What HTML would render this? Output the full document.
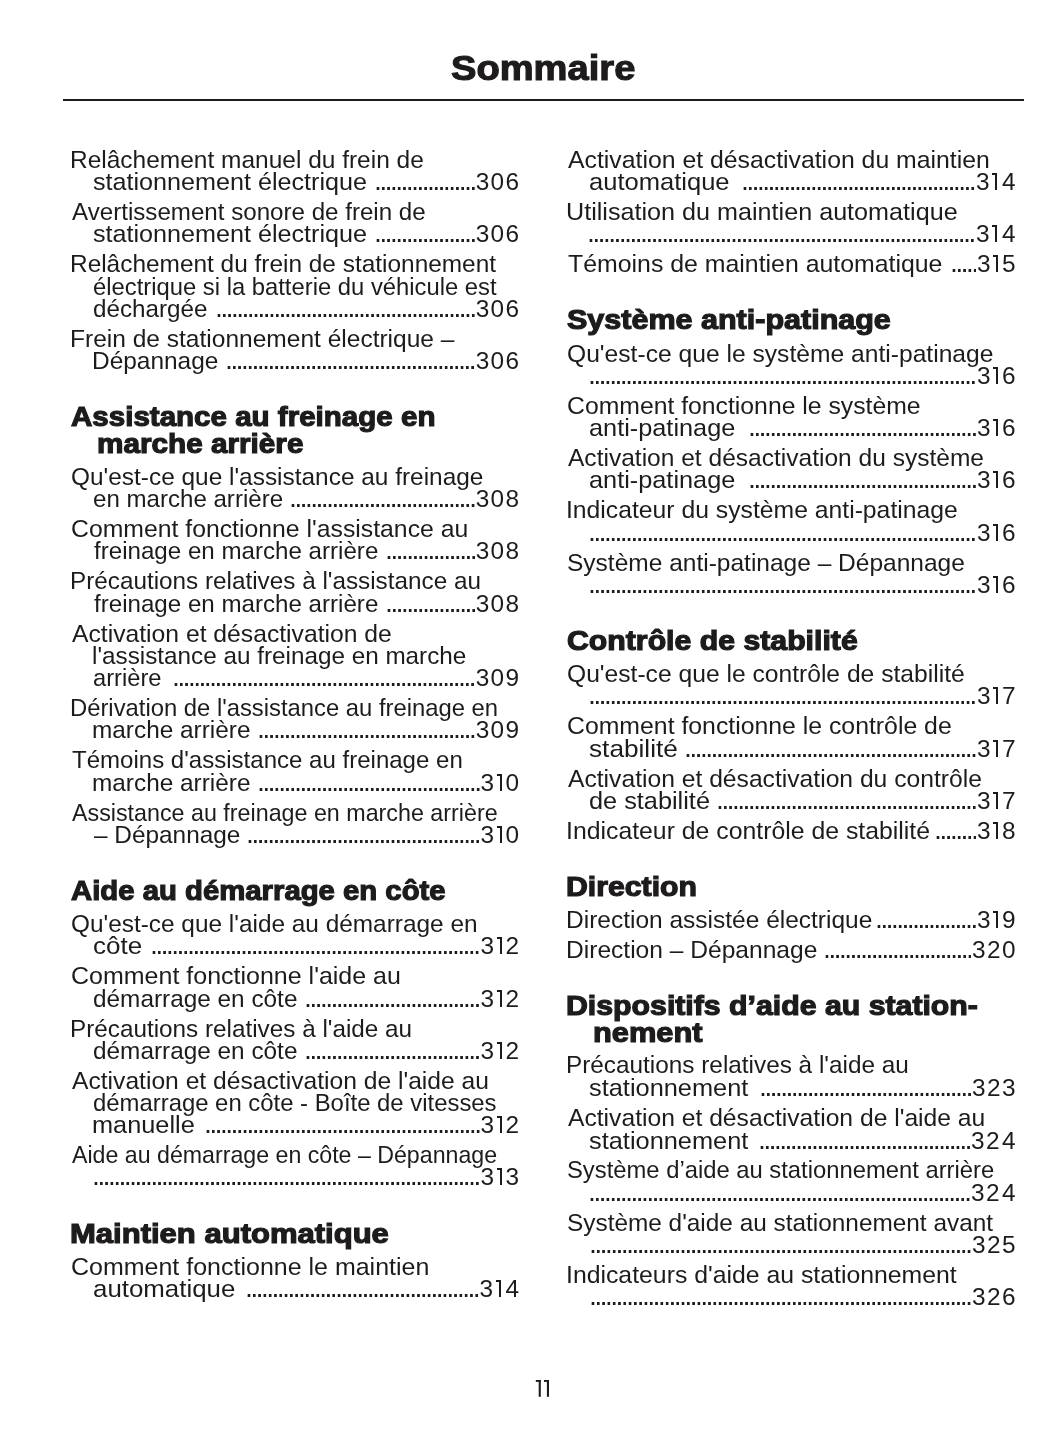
<!DOCTYPE html>
<html><head><meta charset="utf-8"><title>Sommaire</title>
<style>
html,body{margin:0;padding:0;background:#fff;}
body{width:1055px;height:1448px;position:relative;overflow:hidden;font-family:"Liberation Sans",sans-serif;color:#1e1b1c;}
.b,.h,.t{position:absolute;white-space:nowrap;transform-origin:0 0;}
.b{font-size:24.4px;line-height:30px;}
.h{font-size:27.8px;line-height:30px;font-weight:bold;word-spacing:0.0px;-webkit-text-stroke:1.2px #1e1b1c;}
.t{font-size:35px;line-height:40px;font-weight:bold;-webkit-text-stroke:1.1px #1e1b1c;}
.d{position:absolute;height:2.6px;background-image:linear-gradient(to right,transparent 2.91px,#1e1b1c 2.91px);background-size:5.31px 2.6px;background-repeat:repeat-x;background-position:left top;}
.r{position:absolute;background:#1e1b1c;}
.rule{position:absolute;left:63px;top:99px;width:961px;height:2px;background:#1e1b1c;}
</style></head><body>
<div id="pg" style="position:absolute;left:0;top:0;width:1055px;height:1448px;will-change:transform">
<div class="rule"></div>
<div class="b" style="left:69.59px;top:145.00px;transform:scaleX(1.0037)">Relâchement manuel du frein de</div>
<div class="b" style="left:92.77px;top:167.00px;transform:scaleX(1.0311)">stationnement électrique</div>
<div class="b" style="left:505.50px;top:167.00px">6</div>
<div class="b" style="left:490.60px;top:167.00px">0</div>
<div class="b" style="left:475.70px;top:167.00px">3</div>
<div class="d" style="left:374.01px;top:187.40px;width:100.89px"></div>
<div class="b" style="left:71.60px;top:197.00px;transform:scaleX(0.9894)">Avertissement sonore de frein de</div>
<div class="b" style="left:92.77px;top:219.00px;transform:scaleX(1.0311)">stationnement électrique</div>
<div class="b" style="left:505.50px;top:219.00px">6</div>
<div class="b" style="left:490.60px;top:219.00px">0</div>
<div class="b" style="left:475.70px;top:219.00px">3</div>
<div class="d" style="left:374.01px;top:239.40px;width:100.89px"></div>
<div class="b" style="left:69.60px;top:249.00px;transform:scaleX(1.0007)">Relâchement du frein de stationnement</div>
<div class="b" style="left:92.82px;top:272.00px;transform:scaleX(0.9760)">électrique si la batterie du véhicule est</div>
<div class="b" style="left:92.81px;top:294.00px;transform:scaleX(0.9929)">déchargée</div>
<div class="b" style="left:505.50px;top:294.00px">6</div>
<div class="b" style="left:490.60px;top:294.00px">0</div>
<div class="b" style="left:475.70px;top:294.00px">3</div>
<div class="d" style="left:214.71px;top:314.40px;width:260.19px"></div>
<div class="b" style="left:69.59px;top:324.00px;transform:scaleX(1.0055)">Frein de stationnement électrique –</div>
<div class="b" style="left:91.80px;top:346.00px;transform:scaleX(1.0016)">Dépannage</div>
<div class="b" style="left:505.50px;top:346.00px">6</div>
<div class="b" style="left:490.60px;top:346.00px">0</div>
<div class="b" style="left:475.70px;top:346.00px">3</div>
<div class="d" style="left:225.33px;top:366.40px;width:249.57px"></div>
<div class="h" style="left:71.30px;top:402.00px;transform:scaleX(1.0626)">Assistance au freinage en</div>
<div class="h" style="left:97.43px;top:429.00px;transform:scaleX(1.0687)">marche arrière</div>
<div class="b" style="left:70.60px;top:462.00px;transform:scaleX(1.0010)">Qu&#39;est-ce que l&#39;assistance au freinage</div>
<div class="b" style="left:92.81px;top:484.00px;transform:scaleX(0.9874)">en marche arrière</div>
<div class="b" style="left:505.50px;top:484.00px">8</div>
<div class="b" style="left:490.60px;top:484.00px">0</div>
<div class="b" style="left:475.70px;top:484.00px">3</div>
<div class="d" style="left:289.05px;top:504.40px;width:185.85px"></div>
<div class="b" style="left:70.58px;top:514.00px;transform:scaleX(1.0159)">Comment fonctionne l&#39;assistance au</div>
<div class="b" style="left:93.80px;top:536.00px;transform:scaleX(0.9892)">freinage en marche arrière</div>
<div class="b" style="left:505.50px;top:536.00px">8</div>
<div class="b" style="left:490.60px;top:536.00px">0</div>
<div class="b" style="left:475.70px;top:536.00px">3</div>
<div class="d" style="left:384.63px;top:556.40px;width:90.27px"></div>
<div class="b" style="left:69.61px;top:566.00px;transform:scaleX(0.9956)">Précautions relatives à l&#39;assistance au</div>
<div class="b" style="left:93.80px;top:589.00px;transform:scaleX(0.9892)">freinage en marche arrière</div>
<div class="b" style="left:505.50px;top:589.00px">8</div>
<div class="b" style="left:490.60px;top:589.00px">0</div>
<div class="b" style="left:475.70px;top:589.00px">3</div>
<div class="d" style="left:384.63px;top:609.40px;width:90.27px"></div>
<div class="b" style="left:71.60px;top:619.00px;transform:scaleX(1.0124)">Activation et désactivation de</div>
<div class="b" style="left:91.81px;top:641.00px;transform:scaleX(0.9952)">l&#39;assistance au freinage en marche</div>
<div class="b" style="left:92.83px;top:663.00px;transform:scaleX(0.9710)">arrière</div>
<div class="b" style="left:505.50px;top:663.00px">9</div>
<div class="b" style="left:490.60px;top:663.00px">0</div>
<div class="b" style="left:475.70px;top:663.00px">3</div>
<div class="d" style="left:172.23px;top:683.40px;width:302.67px"></div>
<div class="b" style="left:69.65px;top:693.00px;transform:scaleX(0.9761)">Dérivation de l&#39;assistance au freinage en</div>
<div class="b" style="left:91.80px;top:715.00px;transform:scaleX(0.9994)">marche arrière</div>
<div class="b" style="left:505.50px;top:715.00px">9</div>
<div class="b" style="left:490.60px;top:715.00px">0</div>
<div class="b" style="left:475.70px;top:715.00px">3</div>
<div class="d" style="left:257.19px;top:735.40px;width:217.71px"></div>
<div class="b" style="left:71.60px;top:745.00px;transform:scaleX(0.9856)">Témoins d&#39;assistance au freinage en</div>
<div class="b" style="left:91.80px;top:768.00px;transform:scaleX(0.9994)">marche arrière</div>
<div class="b" style="left:505.50px;top:768.00px">0</div>
<div class="r" style="left:496.50px;top:774.40px;width:5.4px;height:1.8px"></div>
<div class="r" style="left:499.70px;top:774.40px;width:2.2px;height:16.6px"></div>
<div class="b" style="left:480.50px;top:768.00px">3</div>
<div class="d" style="left:256.68px;top:788.40px;width:223.02px"></div>
<div class="b" style="left:71.60px;top:798.00px;transform:scaleX(0.9542)">Assistance au freinage en marche arrière</div>
<div class="b" style="left:93.80px;top:820.00px;transform:scaleX(0.9993)">– Dépannage</div>
<div class="b" style="left:505.50px;top:820.00px">0</div>
<div class="r" style="left:496.50px;top:826.40px;width:5.4px;height:1.8px"></div>
<div class="r" style="left:499.70px;top:826.40px;width:2.2px;height:16.6px"></div>
<div class="b" style="left:480.50px;top:820.00px">3</div>
<div class="d" style="left:246.06px;top:840.40px;width:233.64px"></div>
<div class="h" style="left:71.30px;top:876.00px;transform:scaleX(1.0544)">Aide au démarrage en côte</div>
<div class="b" style="left:70.60px;top:909.00px;transform:scaleX(0.9998)">Qu&#39;est-ce que l&#39;aide au démarrage en</div>
<div class="b" style="left:92.73px;top:931.00px;transform:scaleX(1.0659)">côte</div>
<div class="b" style="left:505.50px;top:931.00px">2</div>
<div class="r" style="left:496.50px;top:937.40px;width:5.4px;height:1.8px"></div>
<div class="r" style="left:499.70px;top:937.40px;width:2.2px;height:16.6px"></div>
<div class="b" style="left:480.50px;top:931.00px">3</div>
<div class="d" style="left:150.48px;top:951.40px;width:329.22px"></div>
<div class="b" style="left:70.58px;top:961.00px;transform:scaleX(1.0248)">Comment fonctionne l&#39;aide au</div>
<div class="b" style="left:92.80px;top:984.00px;transform:scaleX(0.9985)">démarrage en côte</div>
<div class="b" style="left:505.50px;top:984.00px">2</div>
<div class="r" style="left:496.50px;top:990.40px;width:5.4px;height:1.8px"></div>
<div class="r" style="left:499.70px;top:990.40px;width:2.2px;height:16.6px"></div>
<div class="b" style="left:480.50px;top:984.00px">3</div>
<div class="d" style="left:304.47px;top:1004.40px;width:175.23px"></div>
<div class="b" style="left:69.61px;top:1014.00px;transform:scaleX(0.9956)">Précautions relatives à l&#39;aide au</div>
<div class="b" style="left:92.80px;top:1036.00px;transform:scaleX(0.9985)">démarrage en côte</div>
<div class="b" style="left:505.50px;top:1036.00px">2</div>
<div class="r" style="left:496.50px;top:1042.40px;width:5.4px;height:1.8px"></div>
<div class="r" style="left:499.70px;top:1042.40px;width:2.2px;height:16.6px"></div>
<div class="b" style="left:480.50px;top:1036.00px">3</div>
<div class="d" style="left:304.47px;top:1056.40px;width:175.23px"></div>
<div class="b" style="left:71.60px;top:1066.00px;transform:scaleX(1.0102)">Activation et désactivation de l&#39;aide au</div>
<div class="b" style="left:92.82px;top:1088.00px;transform:scaleX(0.9791)">démarrage en côte - Boîte de vitesses</div>
<div class="b" style="left:91.72px;top:1110.00px;transform:scaleX(1.0385)">manuelle</div>
<div class="b" style="left:505.50px;top:1110.00px">2</div>
<div class="r" style="left:496.50px;top:1116.40px;width:5.4px;height:1.8px"></div>
<div class="r" style="left:499.70px;top:1116.40px;width:2.2px;height:16.6px"></div>
<div class="b" style="left:480.50px;top:1110.00px">3</div>
<div class="d" style="left:203.58px;top:1130.40px;width:276.12px"></div>
<div class="b" style="left:71.60px;top:1140.00px;transform:scaleX(0.9499)">Aide au démarrage en côte – Dépannage</div>
<div class="b" style="left:505.50px;top:1162.00px">3</div>
<div class="r" style="left:496.50px;top:1168.40px;width:5.4px;height:1.8px"></div>
<div class="r" style="left:499.70px;top:1168.40px;width:2.2px;height:16.6px"></div>
<div class="b" style="left:480.50px;top:1162.00px">3</div>
<div class="d" style="left:92.07px;top:1182.40px;width:387.63px"></div>
<div class="h" style="left:70.18px;top:1219.00px;transform:scaleX(1.1161)">Maintien automatique</div>
<div class="b" style="left:70.58px;top:1252.00px;transform:scaleX(1.0245)">Comment fonctionne le maintien</div>
<div class="b" style="left:92.74px;top:1274.00px;transform:scaleX(1.0598)">automatique</div>
<div class="b" style="left:505.50px;top:1274.00px">4</div>
<div class="r" style="left:495.50px;top:1280.40px;width:5.4px;height:1.8px"></div>
<div class="r" style="left:498.70px;top:1280.40px;width:2.2px;height:16.6px"></div>
<div class="b" style="left:479.50px;top:1274.00px">3</div>
<div class="d" style="left:245.06px;top:1294.40px;width:233.64px"></div>
<div class="b" style="left:567.60px;top:145.00px;transform:scaleX(1.0167)">Activation et désactivation du maintien</div>
<div class="b" style="left:588.75px;top:167.00px;transform:scaleX(1.0470)">automatique</div>
<div class="b" style="left:1001.90px;top:167.00px">4</div>
<div class="r" style="left:991.90px;top:173.40px;width:5.4px;height:1.8px"></div>
<div class="r" style="left:995.10px;top:173.40px;width:2.2px;height:16.6px"></div>
<div class="b" style="left:975.90px;top:167.00px">3</div>
<div class="d" style="left:741.46px;top:187.40px;width:233.64px"></div>
<div class="b" style="left:565.54px;top:197.00px;transform:scaleX(1.0316)">Utilisation du maintien automatique</div>
<div class="b" style="left:1001.90px;top:219.00px">4</div>
<div class="r" style="left:991.90px;top:225.40px;width:5.4px;height:1.8px"></div>
<div class="r" style="left:995.10px;top:225.40px;width:2.2px;height:16.6px"></div>
<div class="b" style="left:975.90px;top:219.00px">3</div>
<div class="d" style="left:587.47px;top:239.40px;width:387.63px"></div>
<div class="b" style="left:567.60px;top:249.00px;transform:scaleX(1.0191)">Témoins de maintien automatique</div>
<div class="b" style="left:1001.90px;top:249.00px">5</div>
<div class="r" style="left:992.90px;top:255.40px;width:5.4px;height:1.8px"></div>
<div class="r" style="left:996.10px;top:255.40px;width:2.2px;height:16.6px"></div>
<div class="b" style="left:976.90px;top:249.00px">3</div>
<div class="d" style="left:949.55px;top:269.40px;width:26.55px"></div>
<div class="h" style="left:567.30px;top:305.00px;transform:scaleX(1.0976)">Système anti-patinage</div>
<div class="b" style="left:566.59px;top:339.00px;transform:scaleX(1.0100)">Qu&#39;est-ce que le système anti-patinage</div>
<div class="b" style="left:1001.90px;top:361.00px">6</div>
<div class="r" style="left:992.90px;top:367.40px;width:5.4px;height:1.8px"></div>
<div class="r" style="left:996.10px;top:367.40px;width:2.2px;height:16.6px"></div>
<div class="b" style="left:976.90px;top:361.00px">3</div>
<div class="d" style="left:588.47px;top:381.40px;width:387.63px"></div>
<div class="b" style="left:566.58px;top:391.00px;transform:scaleX(1.0150)">Comment fonctionne le système</div>
<div class="b" style="left:588.76px;top:413.00px;transform:scaleX(1.0374)">anti-patinage</div>
<div class="b" style="left:1001.90px;top:413.00px">6</div>
<div class="r" style="left:992.90px;top:419.40px;width:5.4px;height:1.8px"></div>
<div class="r" style="left:996.10px;top:419.40px;width:2.2px;height:16.6px"></div>
<div class="b" style="left:976.90px;top:413.00px">3</div>
<div class="d" style="left:747.77px;top:433.40px;width:228.33px"></div>
<div class="b" style="left:567.60px;top:443.00px;transform:scaleX(1.0061)">Activation et désactivation du système</div>
<div class="b" style="left:588.76px;top:465.00px;transform:scaleX(1.0374)">anti-patinage</div>
<div class="b" style="left:1001.90px;top:465.00px">6</div>
<div class="r" style="left:992.90px;top:471.40px;width:5.4px;height:1.8px"></div>
<div class="r" style="left:996.10px;top:471.40px;width:2.2px;height:16.6px"></div>
<div class="b" style="left:976.90px;top:465.00px">3</div>
<div class="d" style="left:747.77px;top:485.40px;width:228.33px"></div>
<div class="b" style="left:565.57px;top:495.00px;transform:scaleX(1.0138)">Indicateur du système anti-patinage</div>
<div class="b" style="left:1001.90px;top:518.00px">6</div>
<div class="r" style="left:992.90px;top:524.40px;width:5.4px;height:1.8px"></div>
<div class="r" style="left:996.10px;top:524.40px;width:2.2px;height:16.6px"></div>
<div class="b" style="left:976.90px;top:518.00px">3</div>
<div class="d" style="left:588.47px;top:538.40px;width:387.63px"></div>
<div class="b" style="left:566.60px;top:548.00px;transform:scaleX(1.0048)">Système anti-patinage – Dépannage</div>
<div class="b" style="left:1001.90px;top:570.00px">6</div>
<div class="r" style="left:992.90px;top:576.40px;width:5.4px;height:1.8px"></div>
<div class="r" style="left:996.10px;top:576.40px;width:2.2px;height:16.6px"></div>
<div class="b" style="left:976.90px;top:570.00px">3</div>
<div class="d" style="left:588.47px;top:590.40px;width:387.63px"></div>
<div class="h" style="left:567.30px;top:626.00px;transform:scaleX(1.0880)">Contrôle de stabilité</div>
<div class="b" style="left:566.59px;top:659.00px;transform:scaleX(1.0099)">Qu&#39;est-ce que le contrôle de stabilité</div>
<div class="b" style="left:1001.90px;top:681.00px">7</div>
<div class="r" style="left:992.90px;top:687.40px;width:5.4px;height:1.8px"></div>
<div class="r" style="left:996.10px;top:687.40px;width:2.2px;height:16.6px"></div>
<div class="b" style="left:976.90px;top:681.00px">3</div>
<div class="d" style="left:588.47px;top:701.40px;width:387.63px"></div>
<div class="b" style="left:566.58px;top:711.00px;transform:scaleX(1.0170)">Comment fonctionne le contrôle de</div>
<div class="b" style="left:588.73px;top:734.00px;transform:scaleX(1.0741)">stabilité</div>
<div class="b" style="left:1001.90px;top:734.00px">7</div>
<div class="r" style="left:992.90px;top:740.40px;width:5.4px;height:1.8px"></div>
<div class="r" style="left:996.10px;top:740.40px;width:2.2px;height:16.6px"></div>
<div class="b" style="left:976.90px;top:734.00px">3</div>
<div class="d" style="left:684.05px;top:754.40px;width:292.05px"></div>
<div class="b" style="left:567.60px;top:764.00px;transform:scaleX(1.0108)">Activation et désactivation du contrôle</div>
<div class="b" style="left:588.76px;top:786.00px;transform:scaleX(1.0374)">de stabilité</div>
<div class="b" style="left:1001.90px;top:786.00px">7</div>
<div class="r" style="left:992.90px;top:792.40px;width:5.4px;height:1.8px"></div>
<div class="r" style="left:996.10px;top:792.40px;width:2.2px;height:16.6px"></div>
<div class="b" style="left:976.90px;top:786.00px">3</div>
<div class="d" style="left:715.91px;top:806.40px;width:260.19px"></div>
<div class="b" style="left:565.57px;top:816.00px;transform:scaleX(1.0169)">Indicateur de contrôle de stabilité</div>
<div class="b" style="left:1001.90px;top:816.00px">8</div>
<div class="r" style="left:992.90px;top:822.40px;width:5.4px;height:1.8px"></div>
<div class="r" style="left:996.10px;top:822.40px;width:2.2px;height:16.6px"></div>
<div class="b" style="left:976.90px;top:816.00px">3</div>
<div class="d" style="left:933.62px;top:836.40px;width:42.48px"></div>
<div class="h" style="left:566.21px;top:872.00px;transform:scaleX(1.0874)">Direction</div>
<div class="b" style="left:565.59px;top:905.00px;transform:scaleX(1.0043)">Direction assistée électrique</div>
<div class="b" style="left:1001.90px;top:905.00px">9</div>
<div class="r" style="left:992.90px;top:911.40px;width:5.4px;height:1.8px"></div>
<div class="r" style="left:996.10px;top:911.40px;width:2.2px;height:16.6px"></div>
<div class="b" style="left:976.90px;top:905.00px">3</div>
<div class="d" style="left:875.21px;top:925.40px;width:100.89px"></div>
<div class="b" style="left:565.59px;top:935.00px;transform:scaleX(1.0073)">Direction – Dépannage</div>
<div class="b" style="left:1001.90px;top:935.00px">0</div>
<div class="b" style="left:987.00px;top:935.00px">2</div>
<div class="b" style="left:972.10px;top:935.00px">3</div>
<div class="d" style="left:822.62px;top:955.40px;width:148.68px"></div>
<div class="h" style="left:566.21px;top:991.00px;transform:scaleX(1.0886)">Dispositifs d’aide au station-</div>
<div class="h" style="left:593.39px;top:1018.00px;transform:scaleX(1.1082)">nement</div>
<div class="b" style="left:565.60px;top:1050.00px;transform:scaleX(0.9976)">Précautions relatives à l&#39;aide au</div>
<div class="b" style="left:588.76px;top:1073.00px;transform:scaleX(1.0401)">stationnement</div>
<div class="b" style="left:1001.90px;top:1073.00px">3</div>
<div class="b" style="left:987.00px;top:1073.00px">2</div>
<div class="b" style="left:972.10px;top:1073.00px">3</div>
<div class="d" style="left:758.90px;top:1093.40px;width:212.40px"></div>
<div class="b" style="left:567.60px;top:1103.00px;transform:scaleX(1.0109)">Activation et désactivation de l&#39;aide au</div>
<div class="b" style="left:588.76px;top:1126.00px;transform:scaleX(1.0401)">stationnement</div>
<div class="b" style="left:1001.90px;top:1126.00px">4</div>
<div class="b" style="left:986.00px;top:1126.00px">2</div>
<div class="b" style="left:971.10px;top:1126.00px">3</div>
<div class="d" style="left:757.90px;top:1146.40px;width:212.40px"></div>
<div class="b" style="left:566.62px;top:1155.00px;transform:scaleX(0.9755)">Système d’aide au stationnement arrière</div>
<div class="b" style="left:1001.90px;top:1178.00px">4</div>
<div class="b" style="left:986.00px;top:1178.00px">2</div>
<div class="b" style="left:971.10px;top:1178.00px">3</div>
<div class="d" style="left:587.98px;top:1198.40px;width:382.32px"></div>
<div class="b" style="left:566.60px;top:1208.00px;transform:scaleX(0.9993)">Système d&#39;aide au stationnement avant</div>
<div class="b" style="left:1001.90px;top:1230.00px">5</div>
<div class="b" style="left:987.00px;top:1230.00px">2</div>
<div class="b" style="left:972.10px;top:1230.00px">3</div>
<div class="d" style="left:588.98px;top:1250.40px;width:382.32px"></div>
<div class="b" style="left:565.57px;top:1260.00px;transform:scaleX(1.0165)">Indicateurs d&#39;aide au stationnement</div>
<div class="b" style="left:1001.90px;top:1282.00px">6</div>
<div class="b" style="left:987.00px;top:1282.00px">2</div>
<div class="b" style="left:972.10px;top:1282.00px">3</div>
<div class="d" style="left:588.98px;top:1302.40px;width:382.32px"></div>
<div class="t" style="left:451.00px;top:48.00px;transform:scaleX(1.0893)">Sommaire</div>
<svg style="position:absolute;left:0;top:0" width="1055" height="1448" viewBox="0 0 1055 1448"><g fill="#1e1b1c">
<rect x="538.7" y="1380" width="2.1" height="16.8"/><rect x="535.8" y="1380" width="5.0" height="1.9"/>
<rect x="546.9" y="1380" width="2.1" height="16.8"/><rect x="544.0" y="1380" width="5.0" height="1.9"/></g></svg>
</div>
</body></html>
